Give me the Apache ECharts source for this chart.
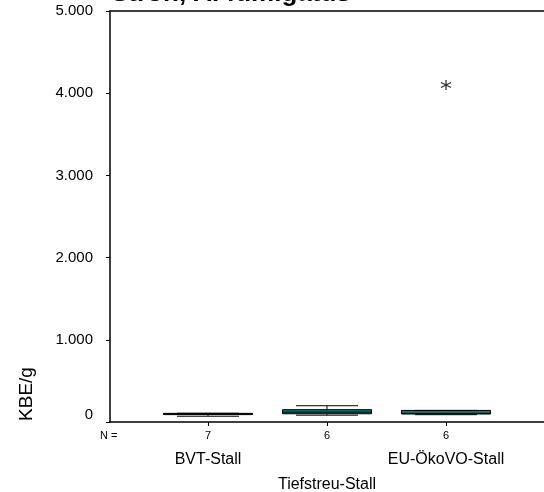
<!DOCTYPE html>
<html>
<head>
<meta charset="utf-8">
<script src="https://cdn.jsdelivr.net/npm/echarts@6/dist/echarts.min.js"></script>
<style>html,body{margin:0;padding:0;background:#fff}#c{width:544px;height:492px}</style>
</head>
<body>
<div id="c"></div>
<script>
var categories = ['BVT-Stall', 'Tiefstreu-Stall', 'EU-ÖkoVO-Stall'];
var nCounts = ['7', '6', '6'];
// [min, Q1, median, Q3, max]
var boxValues = [
  [70, 90, 98, 105, 107],
  [83, 100, 120, 150, 198],
  [89, 97, 105, 141, 141]
];
var outliers = [[2, 4100]];
var yTicks = [0, 1000, 2000, 3000, 4000, 5000];

var F = 'Liberation Sans, Arial, sans-serif';
var chart = echarts.init(document.getElementById('c'));
function fmt(v){
  if (v === 0) return '{z|0}';
  return String(v).replace(/\B(?=(\d{3})+(?!\d))/g, '.');
}

var boxData = boxValues.map(function (b, i) { return [i].concat(b); });

function renderBox(params, api) {
  var c = api.value(0);
  var x = api.coord([c, 0])[0];
  var y = [1, 2, 3, 4, 5].map(function (k) { return api.coord([c, api.value(k)])[1]; });
  var bw = 44.5, cw = 31;
  var ls = { stroke: '#000', lineWidth: 1 };
  return {
    type: 'group',
    children: [
      { type: 'line', shape: { x1: x, y1: y[4], x2: x, y2: y[3] }, style: ls },
      { type: 'line', shape: { x1: x, y1: y[1], x2: x, y2: y[0] }, style: ls },
      { type: 'line', shape: { x1: x - cw, y1: y[4], x2: x + cw, y2: y[4] }, style: ls },
      { type: 'line', shape: { x1: x - cw, y1: y[0], x2: x + cw, y2: y[0] }, style: ls },
      { type: 'rect', shape: { x: x - bw, y: y[3], width: 2 * bw, height: y[1] - y[3] },
        style: { fill: '#177575', stroke: '#000', lineWidth: 1 } },
      { type: 'line', shape: { x1: x - bw, y1: y[2], x2: x + bw, y2: y[2] }, style: ls }
    ]
  };
}

chart.setOption({
  animation: false,
  title: {
    text: 'Stroh, A. fumigatus', left: 106, top: -24,
    textStyle: { fontFamily: F, fontSize: 26, fontWeight: 'bold', color: '#000' }
  },
  grid: [
    { left: 110, right: 0, top: 11, bottom: 70, containLabel: false, outerBoundsMode: 'none' },
    { left: 148.5, width: 357, top: 11, bottom: 70, containLabel: false, outerBoundsMode: 'none' }
  ],
  xAxis: [
    { gridIndex: 0, type: 'value', min: 0, max: 1, position: 'bottom',
      axisLine: { show: true, lineStyle: { color: '#000', width: 1.5 } },
      axisTick: { show: false }, axisLabel: { show: false }, splitLine: { show: false } },
    { gridIndex: 0, type: 'value', min: 0, max: 1, position: 'top',
      axisLine: { show: true, lineStyle: { color: '#000', width: 1.5 } },
      axisTick: { show: false }, axisLabel: { show: false }, splitLine: { show: false } },
    { gridIndex: 1, type: 'category', data: categories, position: 'bottom',
      axisLine: { show: false },
      axisTick: { show: true, alignWithLabel: true, length: 4, lineStyle: { color: '#000' } },
      axisLabel: { margin: 8, fontFamily: F, fontSize: 11, color: '#000',
        formatter: function (v, i) { return nCounts[i]; } } },
    { gridIndex: 1, type: 'category', data: categories, position: 'bottom',
      axisLine: { show: false }, axisTick: { show: false },
      axisLabel: { margin: 25, fontFamily: F, fontSize: 16, color: '#000', lineHeight: 25,
        interval: 0,
        formatter: function (v, i) { return i === 1 ? '\n' + v : v; } } }
  ],
  yAxis: [
    { gridIndex: 0, type: 'value', min: 0, max: 5000, interval: 1000,
      axisLine: { show: true, lineStyle: { color: '#000', width: 1.5 } },
      axisTick: { show: true, length: 4, lineStyle: { color: '#000' } },
      axisLabel: { margin: 17, fontFamily: F, fontSize: 15, color: '#000', formatter: fmt,
        rich: { z: { fontFamily: F, fontSize: 15, color: '#000', padding: [0, 0, 14, 0] } } },
      splitLine: { show: false } },
    { gridIndex: 1, type: 'value', min: 0, max: 5000, interval: 1000, show: false }
  ],
  graphic: [
    { type: 'text', left: 100, top: 430,
      style: { text: 'N =', font: '11px ' + F, fill: '#000' } },
    { type: 'text', x: 27, y: 394, rotation: Math.PI / 2,
      style: { text: 'KBE/g', font: '19px ' + F, fill: '#000', align: 'center', verticalAlign: 'middle' } }
  ],
  series: [
    { type: 'custom', xAxisIndex: 2, yAxisIndex: 1, data: boxData,
      encode: { x: 0, y: [1, 2, 3, 4, 5] }, renderItem: renderBox },
    { type: 'scatter', xAxisIndex: 2, yAxisIndex: 1, data: outliers,
      symbol: 'path://M5,0L5,10M0.7,2.5L9.3,7.5M0.7,7.5L9.3,2.5', symbolSize: 10,
      itemStyle: { color: 'none', borderColor: '#000', borderWidth: 1.3 } }
  ]
});
</script>
</body>
</html>
